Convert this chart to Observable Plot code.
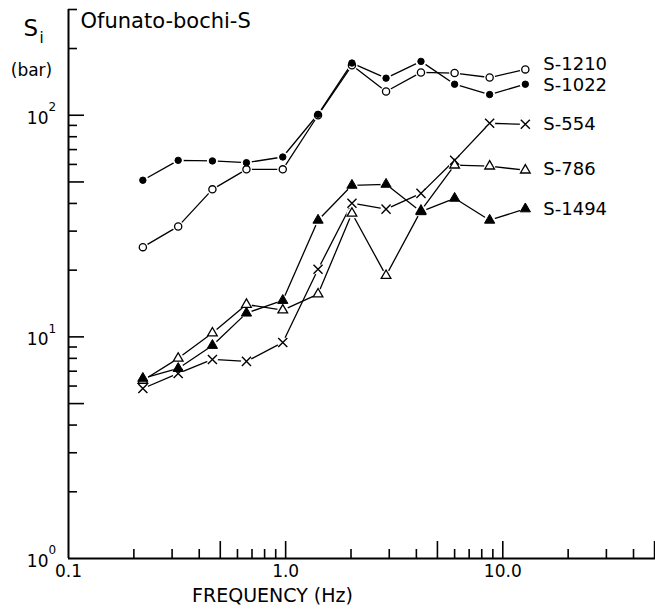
<!DOCTYPE html>
<html>
<head>
<meta charset="utf-8">
<script src="https://cdn.jsdelivr.net/npm/d3@7"></script>
<script src="https://cdn.jsdelivr.net/npm/@observablehq/plot@0.6"></script>
<style>
  html, body { margin: 0; padding: 0; background: #fff; }
  #chart svg { display: block; }
  g[aria-label="title"] text { letter-spacing: 1.6px; }
  g[aria-label="series-label"] text { letter-spacing: 0.6px; }
  g[aria-label="unit"] text { letter-spacing: 1px; }
</style>
</head>
<body>
<div id="chart"></div>
<script>
// ---- data ----
const freq = [0.22, 0.32, 0.46, 0.66, 0.97, 1.41, 2.02, 2.9, 4.2, 6.0, 8.7, 12.7];
const s1210 = [25.4, 31.5, 46.3, 57, 57, 100, 168, 128, 156, 155, 148, 161];
const s1022 = [50.9, 62.6, 62.2, 61.1, 64.8, 101, 172, 147, 175, 138, 124, 138];
const s554  = [5.85, 6.84, 7.91, 7.75, 9.44, 20.2, 40.1, 37.7, 44.4, 62.6, 92, 91];
const s786  = [6.36, 8.0, 10.4, 14.0, 13.2, 15.6, 36.1, 18.9, 37.1, 59.5, 58.9, 56.5];
const s1494 = [6.5, 7.2, 9.15, 12.8, 14.6, 33.6, 48.3, 48.8, 36.7, 42.2, 33.6, 37.8];
const seriesNames = ["S-1210", "S-1022", "S-554", "S-786", "S-1494"];
const seriesValues = [s1210, s1022, s554, s786, s1494];

// axis ticks
const xLabelTicks = [0.1, 1, 10];
const xMinorTicks = [0.2, 0.3, 0.4, 0.6, 0.7, 0.8, 0.9, 2, 3, 4, 6, 7, 8, 9, 20, 30, 40];
const xMajorTicks = [0.5, 1, 5, 10, 50];
const yLabelTicks = [1, 10, 100];
const yMinorTicks = [2, 3, 4, 6, 7, 8, 9, 20, 30, 40, 60, 70, 80, 90, 200, 300];
const yMajorTicks = [5, 10, 50, 100];

const titleText = "Ofunato-bochi-S";
const xTitle = "FREQUENCY (Hz)";

// ---- build table ----
const rows = seriesNames.flatMap((name, k) =>
  freq.map((f, i) => ({series: name, f, v: seriesValues[k][i]})));
const bySeries = name => rows.filter(d => d.series === name);
const lastOf = name => { const r = bySeries(name); return [r[r.length - 1]]; };

const markerStyle = {
  "S-1210": {symbol: "circle", fill: "white", stroke: "black", r: 3.6, strokeWidth: 1.3},
  "S-1022": {symbol: "circle", fill: "black", stroke: "black", r: 3.2, strokeWidth: 1},
  "S-554":  {symbol: "times", fill: "none", stroke: "black", r: 4.2, strokeWidth: 1.4},
  "S-786":  {symbol: "triangle", fill: "white", stroke: "black", r: 3.6, strokeWidth: 1.3},
  "S-1494": {symbol: "triangle", fill: "black", stroke: "black", r: 3.8, strokeWidth: 1}
};
const labelDy = {"S-1210": -5, "S-1022": 1, "S-554": 0, "S-786": -1, "S-1494": 0};

const font = "DejaVu Sans";

const chart = Plot.plot({
  width: 655,
  height: 611,
  marginLeft: 68,
  marginRight: 0,
  marginTop: 9,
  marginBottom: 53,
  style: {fontFamily: font, color: "black", background: "white", overflow: "visible"},
  x: {type: "log", domain: [0.1, 50.5]},
  y: {type: "log", domain: [1, 300]},
  marks: [
    // axis lines
    Plot.ruleY([1], {stroke: "black", strokeWidth: 2}),
    Plot.ruleX([0.1], {stroke: "black", strokeWidth: 2}),
    // inward ticks
    Plot.axisX(xMinorTicks, {tickSize: -9, fill: "none", label: null, strokeWidth: 1.6}),
    Plot.axisX(xMajorTicks, {tickSize: -17, fill: "none", label: null, strokeWidth: 1.6}),
    Plot.axisY(yMinorTicks, {tickSize: -9, fill: "none", label: null, strokeWidth: 1.6}),
    Plot.axisY(yMajorTicks, {tickSize: -16, fill: "none", label: null, strokeWidth: 1.6}),
    // tick labels
    Plot.axisX(xLabelTicks, {tickSize: 0, tickPadding: 6, tickFormat: d3.format(".1f"), fontSize: 17, label: null}),
    Plot.axisY(yLabelTicks, {tickSize: 0, tickPadding: 20, tickFormat: () => "10", fontSize: 17, dy: 3, label: null}),
    Plot.axisY(yLabelTicks, {tickSize: 0, tickPadding: 20, textAnchor: "start",
      tickFormat: d => String(Math.round(Math.log10(d))), fontSize: 12, dy: -8, label: null}),
    // data lines
    Plot.line(rows, {x: "f", y: "v", z: "series", stroke: "black", strokeWidth: 1.3}),
    // white halos (gaps around markers)
    Plot.dot(rows, {x: "f", y: "v", r: 5.5, fill: "white", stroke: "none"}),
    // markers
    ...seriesNames.map(name => Plot.dot(bySeries(name), {x: "f", y: "v", ...markerStyle[name]})),
    // series labels
    ...seriesNames.map(name => Plot.text(lastOf(name), {
      x: "f", y: "v", text: "series", textAnchor: "start", dx: 18, dy: labelDy[name],
      fontSize: 18, fill: "black", ariaLabel: "series-label"
    })),
    // title and axis titles
    Plot.text([titleText], {frameAnchor: "top-left", dx: 12, dy: 11.5, textAnchor: "start",
      lineAnchor: "middle", fontSize: 21, fill: "black", ariaLabel: "title"}),
    Plot.text(["S"], {frameAnchor: "top-left", dx: -45, dy: 19, textAnchor: "start",
      lineAnchor: "middle", fontSize: 23, fill: "black"}),
    Plot.text(["i"], {frameAnchor: "top-left", dx: -29, dy: 29, textAnchor: "start",
      lineAnchor: "middle", fontSize: 15, fill: "black"}),
    Plot.text(["(bar)"], {frameAnchor: "top-left", dx: -37, dy: 61, textAnchor: "middle",
      lineAnchor: "middle", fontSize: 17, fill: "black", ariaLabel: "unit"}),
    Plot.text([xTitle], {frameAnchor: "bottom-left", dx: 204, dy: 37, textAnchor: "middle",
      lineAnchor: "middle", fontSize: 19, fill: "black", ariaLabel: "title"})
  ]
});

document.getElementById("chart").appendChild(chart);
</script>
</body>
</html>
